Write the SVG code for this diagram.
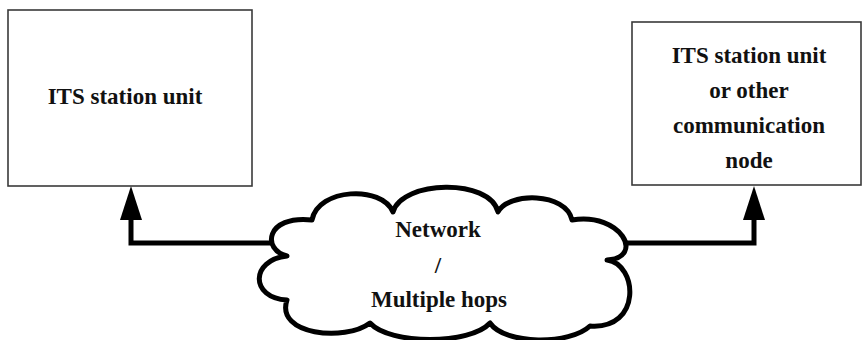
<svg xmlns="http://www.w3.org/2000/svg" width="862" height="340" viewBox="0 0 862 340">
  <style>
    .box { fill: #ffffff; stroke: #3a3a3a; stroke-width: 1.6; }
    .lbl { font-family: "Liberation Serif", "DejaVu Serif", serif; font-size: 23px; font-weight: bold; fill: #111111; text-anchor: middle; }
    .conn { fill: none; stroke: #000000; stroke-width: 5; stroke-linejoin: miter; }
    .cloud { fill: #ffffff; stroke: #000000; stroke-width: 5; stroke-linejoin: round; }
  </style>
  <defs>
    <marker id="arrow" markerUnits="userSpaceOnUse" markerWidth="34" markerHeight="22" refX="0" refY="11" orient="auto" viewBox="0 0 34 22">
      <path d="M0,0 L34,11 L0,22 z" fill="#000000"/>
    </marker>
  </defs>
  <rect width="862" height="340" fill="#ffffff"/>
  <g id="connectors">
    <path class="conn" d="M 275,243 H 131 V 220" marker-end="url(#arrow)"/>
    <path class="conn" d="M 622,243 H 754 V 220" marker-end="url(#arrow)"/>
  </g>
  <g id="node-left">
    <rect class="box" x="8" y="10" width="244" height="176"/>
    <text class="lbl" x="125" y="104">ITS station unit</text>
  </g>
  <g id="node-right">
    <rect class="box" x="632" y="22" width="229" height="163"/>
    <text class="lbl" x="749" y="63">ITS station unit</text>
    <text class="lbl" x="749" y="98">or other</text>
    <text class="lbl" x="749" y="133">communication</text>
    <text class="lbl" x="749" y="168">node</text>
  </g>
  <g id="node-cloud">
    <path class="cloud" d="M 287,256 C 262,250 265,215 312,220 C 318,188 382,185 393,212 C 402,180 490,178 498,212 C 508,192 566,192 572,220 C 622,212 645,258 607,260 C 638,264 642,330 590,326 C 570,345 505,345 490,323 C 470,345 390,345 370,323 C 345,342 275,335 287,300 C 250,298 250,260 287,256 Z"/>
    <text class="lbl" x="438" y="237">Network</text>
    <text class="lbl" x="438" y="273">/</text>
    <text class="lbl" x="439" y="307">Multiple hops</text>
  </g>
</svg>
